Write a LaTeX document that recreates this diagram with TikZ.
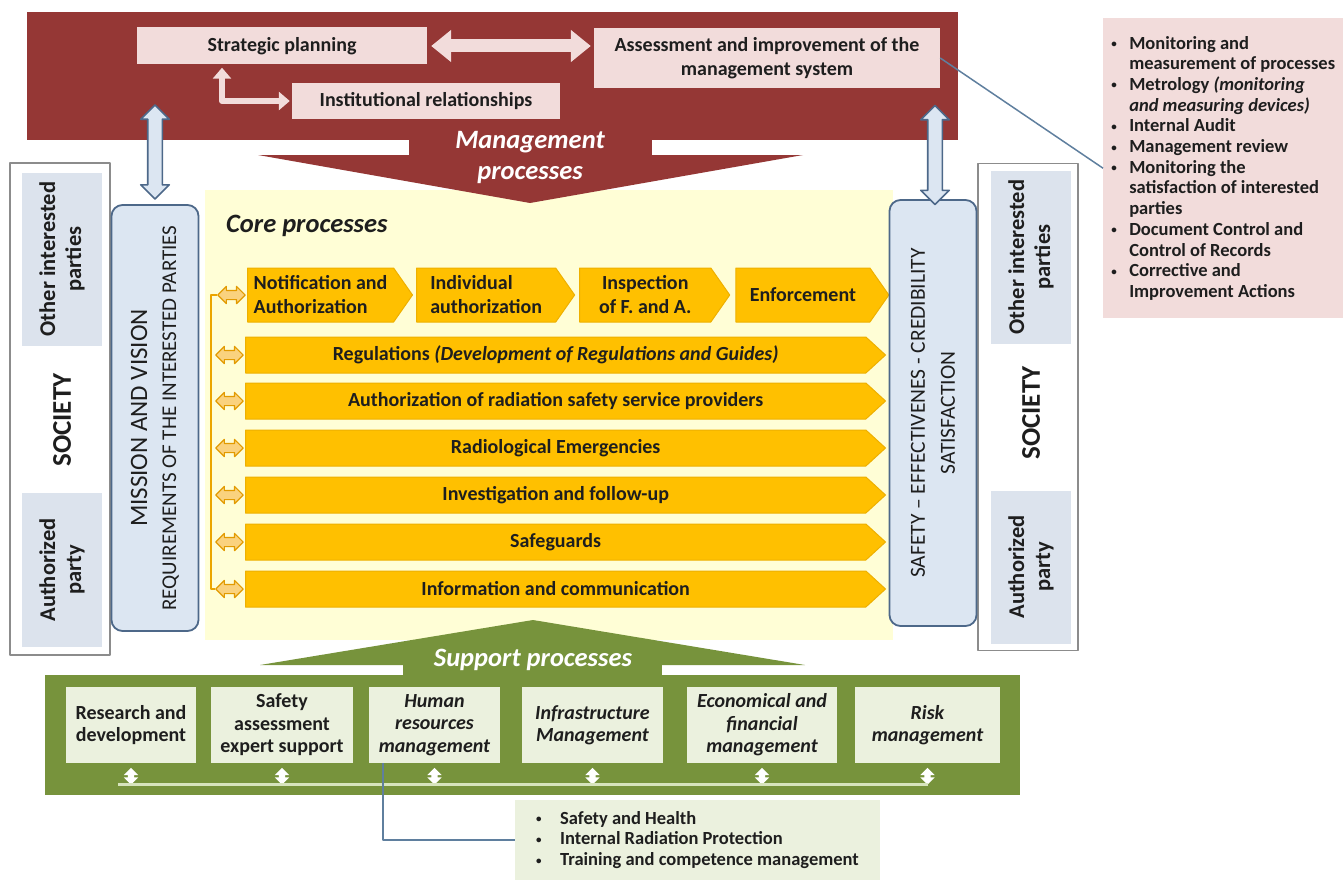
\documentclass[tikz,border=0pt]{standalone}
\usepackage{fontspec}
\setmainfont{Carlito}
\usetikzlibrary{positioning,arrows.meta,shapes.arrows,shapes.symbols}

\definecolor{mgmtred}{HTML}{953735}
\definecolor{mgmtpink}{HTML}{F2DCDB}
\definecolor{skyfill}{HTML}{DCE6F2}
\definecolor{skyedge}{HTML}{4D6889}
\definecolor{cellfill}{HTML}{DCE3ED}
\definecolor{wrapedge}{HTML}{8C8C8C}
\definecolor{corebg}{HTML}{FFFED6}
\definecolor{flowfill}{HTML}{FFC000}
\definecolor{flowedge}{HTML}{EEB000}
\definecolor{linkfill}{HTML}{FAD27E}
\definecolor{linkedge}{HTML}{E29A00}
\definecolor{suppgreen}{HTML}{77933C}
\definecolor{suppfill}{HTML}{EBF1DE}
\definecolor{supprail}{HTML}{D7E4BD}
\definecolor{callout}{HTML}{5F7F9E}
\definecolor{ink}{HTML}{1E1E1E}

\newcommand{\fsz}[2]{\fontsize{#1pt}{#2pt}\selectfont}
\newcommand{\smalldot}{\raisebox{1.5pt}{\fsz{11}{11}\textbullet}}
\newcommand{\bul}{\makebox[18pt][l]{\smalldot}}
\newcommand{\ind}{\hspace*{18pt}}
\newcommand{\hbul}{\makebox[24pt][l]{\smalldot}}

\tikzset{
  mgmtitem/.style={fill=mgmtpink, text=ink, inner sep=0pt, align=center, font=\fsz{20}{24}\bfseries},
  headlbl/.style={text=white, inner sep=0pt, align=center, font=\fsz{26.5}{31}\bfseries\itshape},
  pinkpipe/.style={draw=mgmtpink, line width=13pt,
    {Triangle[length=20pt,width=31pt]}-{Triangle[length=20pt,width=31pt]}},
  pinkbend/.style={draw=mgmtpink, line width=6pt,
    {Triangle[length=11pt,width=18pt]}-{Triangle[length=11pt,width=18pt]}},
  bluepipe/.style={shape=double arrow, rotate=90, fill=skyfill, draw=skyedge, line width=1.6pt,
    double arrow head extend=7pt, double arrow head indent=0pt, inner ysep=6.5pt, inner xsep=#1},
  sidewrap/.style={draw=wrapedge, line width=1.2pt, fill=white, minimum width=100pt, inner sep=0pt},
  sidecell/.style={fill=cellfill, rotate=90, align=center, inner sep=0pt, minimum height=80pt,
    font=\fsz{22.5}{26}\bfseries, text=ink},
  society/.style={rotate=90, inner sep=0pt, font=\fsz{27}{30}\bfseries, text=ink},
  vision/.style={fill=skyfill, draw=skyedge, line width=1.8pt, rounded corners=11pt, rotate=90,
    align=center, minimum width=426pt, minimum height=87pt, text=ink, inner sep=0pt},
  flow/.style={shape=signal, signal to=east, fill=flowfill, draw=flowedge, line width=1pt,
    text=ink, inner sep=0pt, font=\fsz{20}{24}\bfseries},
  flowshort/.style={flow, minimum height=54pt, signal pointer angle=110, align=left},
  flowlong/.style={flow, minimum height=36pt, minimum width=640pt, signal pointer angle=85, anchor=west},
  flowlink/.style={shape=double arrow, fill=linkfill, draw=linkedge, line width=1.2pt,
    double arrow head extend=4pt, double arrow head indent=0pt, inner ysep=4pt, inner xsep=8.5pt},
  flowrail/.style={draw=linkedge!70!flowfill, line width=2pt},
  suppitem/.style={fill=suppfill, text=ink, inner sep=0pt, align=center, minimum height=76pt,
    font=\fsz{20}{22.5}\bfseries},
  suppital/.style={suppitem, font=\fsz{20}{22.5}\bfseries\itshape},
  supplink/.style={shape=double arrow, rotate=90, fill=white, draw=none,
    double arrow head extend=4pt, double arrow head indent=0pt, inner ysep=3pt, inner xsep=5pt},
  supprail/.style={draw=supprail, line width=3pt},
  calloutline/.style={draw=callout, line width=1.5pt},
  notelist/.style={text=ink, align=left, inner sep=0pt, font=\fsz{18.5}{20.7}\bfseries},
}

\begin{document}
\begin{tikzpicture}[x=1pt, y=-1pt, line join=round]
\path[use as bounding box] (0,0) rectangle (1343,880);

% core area behind everything
\fill[corebg] (205,190) rectangle (893,640);

% management processes
\fill[mgmtred] (27,12) rectangle (958,140);
\fill[mgmtred] (409,139) rectangle (652,156);
\fill[mgmtred] (258,155) -- (803,155) -- (530,203) -- cycle;
\node[headlbl] (mgmtlbl) at (530,157) {Management\\processes};

\node[mgmtitem, minimum width=290pt, minimum height=37pt] (strat) at (282,46) {Strategic planning};
\node[mgmtitem, minimum width=346pt, minimum height=60pt] (assess) at (767,58)
  {Assessment and improvement of the\\management system};
\node[mgmtitem, minimum width=268pt, minimum height=36pt] (instit) at (426,101) {Institutional relationships};
\draw[pinkpipe, shorten <=4pt, shorten >=3pt] (strat.east) -- (strat.east -| assess.west);
\draw[pinkbend, shorten <=2pt, shorten >=3pt] (instit.west) -| ([xshift=-60pt]strat.south);

% support processes
\fill[suppgreen] (45,675) rectangle (1020,795);
\fill[suppgreen] (403,664) rectangle (662,676);
\fill[suppgreen] (260,665) -- (805,665) -- (533,620) -- cycle;
\node[headlbl] (supplbl) at (533,660) {Support processes};

% core processes
\node[headlbl, text=ink, anchor=west] (corelbl) at (226,226) {Core processes};

\node[flowshort, minimum width=165pt, anchor=west] (notif) at (247,295) {Notification and\\Authorization};
\node[flowshort, minimum width=158pt, right=3pt of notif] (indiv) {Individual\\authorization};
\node[flowshort, minimum width=150pt, right=4pt of indiv, align=center] (insp) {Inspection\\of F. and A.};
\node[flowshort, minimum width=153pt, right=5pt of insp] (enforce) {Enforcement};

\node[flowlong] (regul) at (245,355) {Regulations \textit{(Development of Regulations and Guides)}};
\node[flowlong] (authsp) at (245,401) {Authorization of radiation safety service providers};
\node[flowlong] (emerg) at (245,448) {Radiological Emergencies};
\node[flowlong] (invest) at (245,495) {Investigation and follow-up};
\node[flowlong] (safeg) at (245,542) {Safeguards};
\node[flowlong] (infocom) at (245,589) {Information and communication};

\foreach \row/\lnk in {notif/lnkA, regul/lnkB, authsp/lnkC, emerg/lnkD, invest/lnkE, safeg/lnkF, infocom/lnkG}
  \node[flowlink, left=1pt of \row] (\lnk) {};
\draw[flowrail] (lnkA.west) -- ++(-6,0) |- (lnkG.west);

% society panels
\node[sidewrap, minimum height=492pt] (socL) at (60,409) {};
\node[sidecell, minimum width=173pt] (otherL) at (62,259) {Other interested\\parties};
\node[society] (socLlbl) at (62,420) {SOCIETY};
\node[sidecell, minimum width=154pt] (authL) at (62,570) {Authorized\\party};

\node[sidewrap, minimum height=487pt] (socR) at (1028,407) {};
\node[sidecell, minimum width=173pt] (otherR) at (1031,257) {Other interested\\parties};
\node[society] (socRlbl) at (1031,413) {SOCIETY};
\node[sidecell, minimum width=153pt] (authR) at (1031,567) {Authorized\\party};

\node[vision, font=\fsz{21}{29}] (mission) at (155,418)
  {{\fsz{25}{29}MISSION AND VISION}\\REQUIREMENTS OF THE INTERESTED PARTIES};
\node[vision, font=\fsz{21.5}{30}] (safety) at (933,413)
  {SAFETY -- EFFECTIVENES - CREDIBILITY\\SATISFACTION};

\node[bluepipe=39pt] (mvlink) at (155,152) {};
\node[bluepipe=41.5pt] (sclink) at (935,155) {};

% support items
\node[suppitem, minimum width=130pt] (rnd) at (131,725) {Research and\\development};
\node[suppitem, minimum width=142pt] (sae) at (282,725) {Safety\\assessment\\expert support};
\node[suppital, minimum width=131pt] (hrm) at (434.5,725) {Human\\resources\\management};
\node[suppital, minimum width=141pt] (infra) at (592.5,725) {Infrastructure\\Management};
\node[suppital, minimum width=150pt] (econ) at (762,725) {Economical and\\financial\\management};
\node[suppital, minimum width=145pt] (risk) at (927.5,725) {Risk\\management};

\foreach \tile/\lnk in {rnd/rndlink, sae/saelink, hrm/hrmlink, infra/infralink, econ/econlink, risk/risklink}
  \node[supplink] (\lnk) at ([yshift=-13pt]\tile.south) {};
\draw[supprail] ([xshift=-13pt]rndlink.west) -- (risklink.west);

% notes
\node[notelist, fill=suppfill, minimum width=365pt, minimum height=80pt] (hrnote) at (697.5,840)
  {\hbul Safety and Health\\\hbul Internal Radiation Protection\\\hbul Training and competence management};
\draw[calloutline] ([xshift=-51.5pt]hrm.south) |- (hrnote.west);

\node[notelist, fill=mgmtpink, anchor=north west, minimum width=240pt, minimum height=300pt] (assessnote) at (1103,18)
  {\bul Monitoring and\\\ind measurement of processes\\
   \bul Metrology \textit{(monitoring}\\\ind \textit{and measuring devices)}\\
   \bul Internal Audit\\
   \bul Management review\\
   \bul Monitoring the\\\ind satisfaction of interested\\\ind parties\\
   \bul Document Control and\\\ind Control of Records\\
   \bul Corrective and\\\ind Improvement Actions};
\draw[calloutline] (assess.east) -- (assessnote.west);
\end{tikzpicture}
\end{document}
